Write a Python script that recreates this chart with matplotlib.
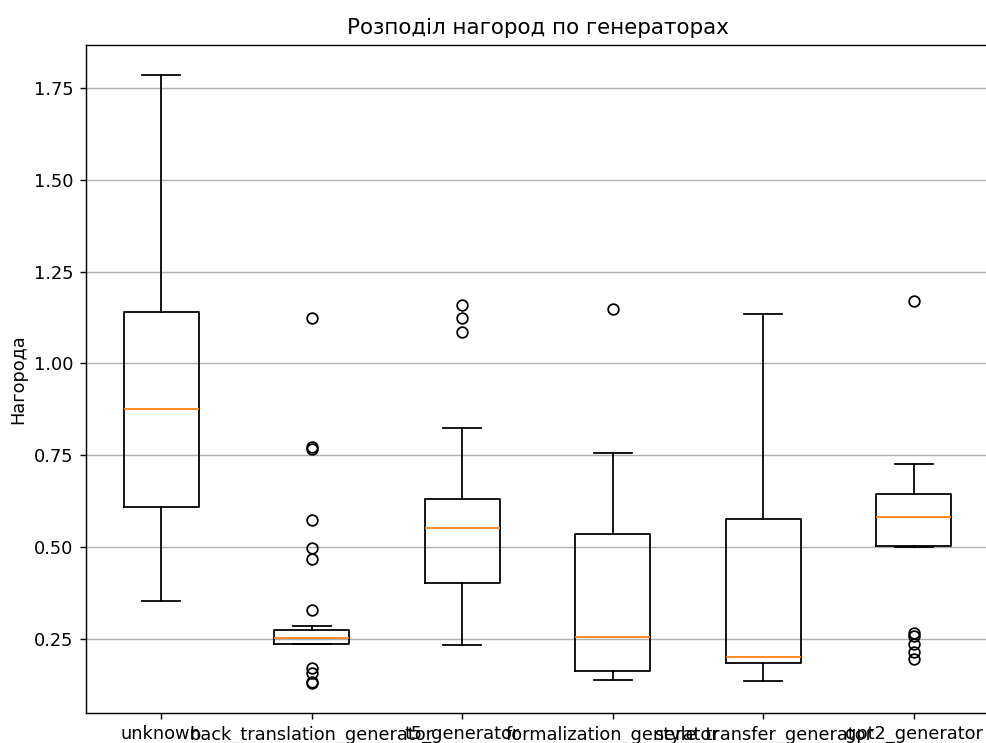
import matplotlib
matplotlib.use("Agg")
import matplotlib.pyplot as plt

generators = ["unknown", "back_translation_generator", "t5_generator",
              "formalization_generator", "style_transfer_generator", "gpt2_generator"]

# box statistics
q1 = [0.608, 0.236, 0.403, 0.164, 0.184, 0.503]
med = [0.876, 0.254, 0.552, 0.256, 0.200, 0.583]
q3 = [1.139, 0.275, 0.631, 0.535, 0.577, 0.646]
whislo = [0.354, 0.236, 0.233, 0.138, 0.135, 0.501]
whishi = [1.786, 0.284, 0.823, 0.757, 1.136, 0.726]
fliers = [
    [],
    [1.125, 0.772, 0.768, 0.574, 0.497, 0.467, 0.329, 0.170, 0.158, 0.133, 0.130],
    [1.158, 1.124, 1.087],
    [1.149],
    [],
    [1.170, 0.266, 0.258, 0.236, 0.215, 0.196],
]

stats = []
for i, name in enumerate(generators):
    stats.append({"label": name, "q1": q1[i], "med": med[i], "q3": q3[i],
                  "whislo": whislo[i], "whishi": whishi[i], "fliers": fliers[i]})

# reference looks like a default 100-dpi figure blown up ~1.28x
DPI = 128
fig = plt.figure(figsize=(986 / DPI, 743 / DPI), dpi=DPI)
ax = fig.add_axes([86 / 986, 30 / 743, 903 / 986, 668 / 743])
ax.bxp(stats, showfliers=True)
ax.set_title("Розподіл нагород по генераторах")
ax.set_ylabel("Нагорода")
ax.grid(axis="y")
ax.set_ylim(0.0485, 1.867)
ax.set_yticks([0.25, 0.5, 0.75, 1.0, 1.25, 1.5, 1.75])
ax.spines["right"].set_visible(False)

fig.savefig("out.png", dpi=DPI)
